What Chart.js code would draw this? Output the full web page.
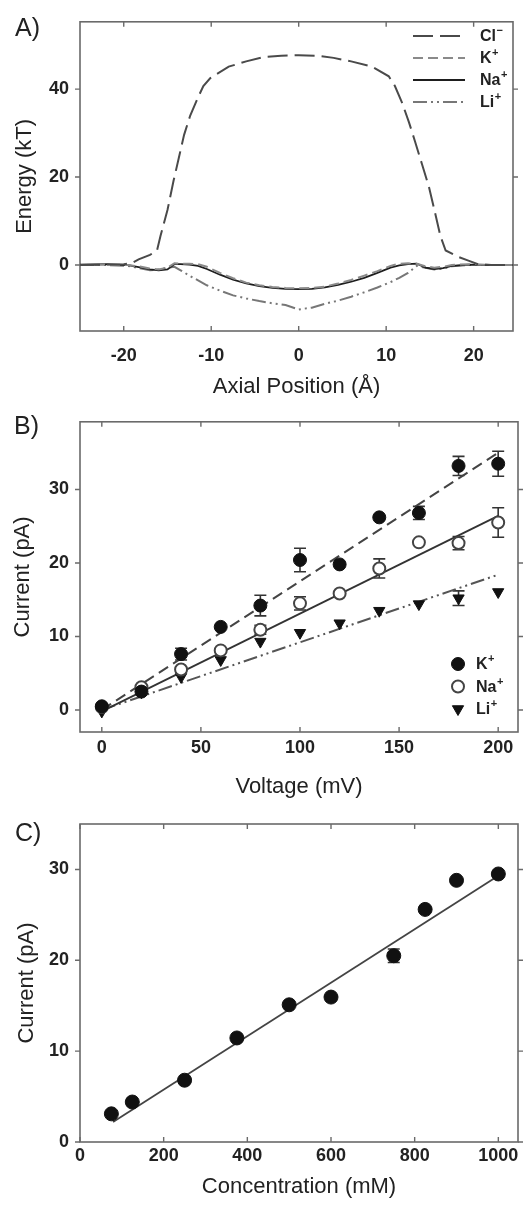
<!DOCTYPE html>
<html>
<head>
<meta charset="utf-8">
<script src="https://cdn.jsdelivr.net/npm/chart.js@4.4.1/dist/chart.umd.min.js"></script>
<style>
  body { margin: 0; background: #fff; width: 526px; height: 1208px; position: relative; overflow: hidden;
         font-family: "Liberation Sans", Arial, sans-serif; }
  .panel { position: absolute; left: 0; width: 526px; }
  .tag { position: absolute; font-size: 25px; line-height: 1; color: #222; }
</style>
</head>
<body>
<div class="panel" style="top:0;height:400px"><canvas id="chartA" width="526" height="400"></canvas></div>
<div class="panel" style="top:400px;height:400px"><canvas id="chartB" width="526" height="400"></canvas></div>
<div class="panel" style="top:800px;height:408px"><canvas id="chartC" width="526" height="408"></canvas></div>
<div class="tag" style="left:15px;top:15px">A)</div>
<div class="tag" style="left:14px;top:413px">B)</div>
<div class="tag" style="left:15px;top:820px">C)</div>
<script>
// ---- panel A: energy profiles ----
const axialCl = [-25, -22, -20, -19, -18.3, -17, -16.2, -15.8, -15, -14.3, -13.7, -13.1, -12.4, -11.6, -10.9, -10.1, -8, -6, -4, -2, 0,
                 2, 4, 6, 8.4, 10.3, 11, 11.8, 12.6, 13.3, 14.1, 14.9, 15.6, 16.2, 16.8, 18.3, 19.4, 20.5, 22, 25];
const energyCl = [0, 0.1, 0.2, 0.5, 1.3, 2.3, 3.3, 6.6, 12.5, 19.2, 24.4, 29.6, 34, 37.7, 40.7, 42.5, 45.1, 46.3, 47.3, 47.6, 47.7,
                  47.6, 47.1, 46.3, 45.1, 42.9, 40.7, 37, 32.5, 28.1, 22.9, 17.7, 11.8, 6.6, 3.3, 1.8, 1.0, 0.2, 0, 0];
const axialIon = [-25, -22, -19.5, -18, -17, -16, -15, -14.2, -13.5, -12.5, -11.5, -10.5, -9, -7.5, -6, -4.5, -3, -1.5, 0,
                  1.5, 3, 4.5, 6, 7.5, 9, 10.5, 11.5, 12.5, 13.5, 14.5, 15.5, 16.5, 17.5, 19.5, 22, 25];
const energyK  = [0, 0.1, 0, -0.4, -0.8, -1.0, -0.6, 0.4, 0.3, 0.3, 0.2, -0.4, -1.8, -3.0, -4.0, -4.6, -5.0, -5.2, -5.3,
                  -5.2, -4.9, -4.2, -3.4, -2.4, -1.4, -0.2, 0.3, 0.4, 0.3, -0.3, -0.6, -0.4, 0, 0.2, 0, 0];
const energyNa = [0.1, 0.2, 0, -0.6, -1.0, -1.2, -1.0, 0.2, 0.2, 0.1, -0.2, -0.9, -2.2, -3.3, -4.2, -4.8, -5.2, -5.4, -5.5,
                  -5.4, -5.1, -4.5, -3.8, -2.9, -1.8, -0.6, -0.1, 0.2, 0.3, -0.6, -0.9, -0.7, -0.2, 0.1, 0, 0];
const energyLi = [0, 0, -0.2, -0.8, -1.2, -1.0, -0.6, -0.4, -1.2, -2.4, -3.5, -4.6, -5.8, -6.9, -7.6, -8.2, -8.7, -9.1, -10.1,
                  -9.7, -8.8, -8.1, -7.2, -6.2, -5.1, -3.9, -2.9, -1.8, -0.2, -0.6, -1.0, -0.8, -0.3, 0, 0, 0];
const ticksAX = [-20, -10, 0, 10, 20];
const ticksAY = [0, 20, 40];

// ---- panel B: current vs voltage ----
const voltage   = [0, 20, 40, 60, 80, 100, 120, 140, 160, 180, 200];
const currentK  = [0.5, 2.5, 7.6, 11.3, 14.2, 20.4, 19.8, 26.2, 26.8, 33.2, 33.5];
const errK      = [0, 0, 0.8, 0, 1.4, 1.6, 0, 0, 0.9, 1.3, 1.7];
const currentNa = [0.4, 3.1, 5.5, 8.1, 10.9, 14.5, 15.85, 19.25, 22.8, 22.7, 25.5];
const errNa     = [0, 0, 0, 0, 0.6, 0.9, 0, 1.3, 0, 0.9, 2.0];
const currentLi = [-0.2, 2.4, 4.5, 6.8, 9.3, 10.5, 11.8, 13.5, 14.4, 15.2, 16.05];
const errLi     = [0, 0, 0, 0, 0, 0, 0, 0, 0, 1.0, 0];
const fitVoltage = [0, 200];
const fitK  = [0, 35.0];
const fitNa = [-0.2, 26.4];
const fitLi = [0, 18.4];
const ticksBX = [0, 50, 100, 150, 200];
const ticksBY = [0, 10, 20, 30];

// ---- panel C: current vs concentration ----
const concentration = [75, 125, 250, 375, 500, 600, 750, 825, 900, 1000];
const currentConc   = [3.1, 4.4, 6.8, 11.45, 15.1, 15.95, 20.5, 25.6, 28.8, 29.5];
const errConc       = [0, 0, 0, 0, 0, 0, 0.75, 0, 0, 0];
const fitConc    = [79, 1000];
const fitConcCur = [2.2, 29.3];
const ticksCX = [0, 200, 400, 600, 800, 1000];
const ticksCY = [0, 10, 20, 30];

const zip = (xs, ys) => xs.map((x, i) => ({x: x, y: ys[i]}));
const FONT = '"Liberation Sans", Arial, sans-serif';
const INK = '#222';

// frame + small ticks on all four sides
const framePlugin = {
  id: 'frame',
  beforeDatasetsDraw(chart) {
    const ctx = chart.ctx, a = chart.chartArea;
    const sx = chart.scales.x, sy = chart.scales.y;
    ctx.save();
    ctx.strokeStyle = '#6a6a6a';
    ctx.lineWidth = 1.6;
    ctx.strokeRect(a.left, a.top, a.right - a.left, a.bottom - a.top);
    ctx.lineWidth = 1.4;
    ctx.beginPath();
    sx.ticks.forEach(t => {
      const px = sx.getPixelForValue(t.value);
      ctx.moveTo(px, a.bottom); ctx.lineTo(px, a.bottom - 5);
      ctx.moveTo(px, a.top); ctx.lineTo(px, a.top + 5);
    });
    sy.ticks.forEach(t => {
      const py = sy.getPixelForValue(t.value);
      ctx.moveTo(a.left, py); ctx.lineTo(a.left - 5, py);
      ctx.moveTo(a.right, py); ctx.lineTo(a.right + 5, py);
    });
    ctx.stroke();
    ctx.restore();
  }
};

// error bars read from dataset.errors
const errorPlugin = {
  id: 'errbars',
  beforeDatasetsDraw(chart) {
    const ctx = chart.ctx, sy = chart.scales.y;
    ctx.save();
    ctx.strokeStyle = '#333';
    ctx.lineWidth = 1.6;
    chart.data.datasets.forEach((ds, i) => {
      if (!ds.errors) return;
      const meta = chart.getDatasetMeta(i);
      ds.data.forEach((p, j) => {
        const e = ds.errors[j];
        if (!e) return;
        const x = meta.data[j].x;
        const y1 = sy.getPixelForValue(p.y + e), y2 = sy.getPixelForValue(p.y - e);
        ctx.beginPath();
        ctx.moveTo(x, y1); ctx.lineTo(x, y2);
        ctx.moveTo(x - 6, y1); ctx.lineTo(x + 6, y1);
        ctx.moveTo(x - 6, y2); ctx.lineTo(x + 6, y2);
        ctx.stroke();
      });
    });
    ctx.restore();
  }
};

// legend drawn inside the plot box
const boxLegend = {
  id: 'boxLegend',
  afterDatasetsDraw(chart, args, opts) {
    if (!opts.items) return;
    const ctx = chart.ctx;
    ctx.save();
    opts.items.forEach((it, k) => {
      const ds = chart.data.datasets[it.ds];
      const y = opts.y + k * opts.dy;
      if (opts.kind === 'line') {
        ctx.strokeStyle = ds.borderColor;
        ctx.lineWidth = ds.borderWidth;
        ctx.setLineDash(ds.borderDash || []);
        ctx.beginPath();
        ctx.moveTo(opts.x, y); ctx.lineTo(opts.x + opts.len, y);
        ctx.stroke();
        ctx.setLineDash([]);
      } else {
        ctx.fillStyle = ds.pointBackgroundColor;
        ctx.strokeStyle = ds.pointBorderColor;
        ctx.lineWidth = ds.pointBorderWidth;
        Chart.helpers.drawPoint(ctx, {pointStyle: ds.pointStyle, rotation: ds.pointRotation || 0,
          radius: ds.pointRadius, borderWidth: ds.pointBorderWidth}, opts.x, y);
      }
      ctx.fillStyle = INK;
      ctx.textBaseline = 'middle';
      ctx.textAlign = 'left';
      ctx.font = 'bold 16px ' + FONT;
      ctx.fillText(it.base, opts.tx, y + 1);
      const w = ctx.measureText(it.base).width;
      ctx.font = 'bold 11px ' + FONT;
      ctx.fillText(it.sup, opts.tx + w + 0.5, y - 5);
    });
    ctx.restore();
  }
};

function axes(o) {
  return {
    x: {
      type: 'linear', min: o.xmin, max: o.xmax,
      afterBuildTicks: s => { s.ticks = o.xticks.map(v => ({value: v})); },
      afterFit: s => { s.height = o.xh; },
      grid: {display: false, drawTicks: false}, border: {display: false},
      ticks: {color: INK, padding: o.xpad, font: {family: FONT, size: 18, weight: 'bold'}, maxRotation: 0,
              callback: v => String(v)},
      title: {display: true, text: o.xtitle, color: INK, padding: {top: 0, bottom: o.xtb},
              font: {family: FONT, size: 22}}
    },
    y: {
      type: 'linear', min: o.ymin, max: o.ymax,
      afterBuildTicks: s => { s.ticks = o.yticks.map(v => ({value: v})); },
      afterFit: s => { s.width = o.yw; },
      grid: {display: false, drawTicks: false}, border: {display: false},
      ticks: {color: INK, padding: 11, font: {family: FONT, size: 18, weight: 'bold'}, callback: v => String(v)},
      title: {display: true, text: o.ytitle, color: INK, padding: {top: o.ytp, bottom: 0},
              font: {family: FONT, size: 22}}
    }
  };
}

const base = {
  responsive: false, animation: false, devicePixelRatio: 1,
  plugins: {legend: {display: false}, tooltip: {enabled: false}}
};

function lineSet(label, xs, ys, color, dash, width) {
  return {label: label, data: zip(xs, ys), showLine: true, pointRadius: 0, borderColor: color,
          borderWidth: width || 2, borderDash: dash, fill: false, tension: 0};
}

// ---------- A ----------
new Chart(document.getElementById('chartA'), {
  type: 'scatter',
  data: {datasets: [
    lineSet('Cl-', axialCl, energyCl, '#4a4a4a', [20, 7], 2),
    lineSet('K+', axialIon, energyK, '#8a8a8a', [10, 5], 2),
    lineSet('Na+', axialIon, energyNa, '#1e1e1e', [], 1.8),
    lineSet('Li+', axialIon, energyLi, '#777', [14, 4, 2, 4, 2, 4], 2)
  ]},
  options: Object.assign({}, base, {
    layout: {padding: {left: 0, top: 14, right: 13, bottom: 0}},
    scales: axes({xmin: -25, xmax: 24.5, xticks: ticksAX, xh: 69, xpad: 14, xtitle: 'Axial Position (Å)', xtb: 0,
                  ymin: -15, ymax: 55.3, yticks: ticksAY, yw: 80, ytitle: 'Energy (kT)', ytp: 12}),
    plugins: Object.assign({}, base.plugins, {
      boxLegend: {kind: 'line', x: 413, len: 52, tx: 480, y: 36, dy: 22,
        items: [{ds: 0, base: 'Cl', sup: '−'}, {ds: 1, base: 'K', sup: '+'},
                {ds: 2, base: 'Na', sup: '+'}, {ds: 3, base: 'Li', sup: '+'}]}
    })
  }),
  plugins: [framePlugin, boxLegend]
});

// ---------- B ----------
new Chart(document.getElementById('chartB'), {
  type: 'scatter',
  data: {datasets: [
    {label: 'K+', data: zip(voltage, currentK), errors: errK, pointStyle: 'circle', pointRadius: 6.5,
     pointBackgroundColor: '#111', pointBorderColor: '#111', pointBorderWidth: 1},
    {label: 'Na+', data: zip(voltage, currentNa), errors: errNa, pointStyle: 'circle', pointRadius: 6,
     pointBackgroundColor: '#fff', pointBorderColor: '#444', pointBorderWidth: 2},
    {label: 'Li+', data: zip(voltage, currentLi), errors: errLi, pointStyle: 'triangle', pointRotation: 180,
     pointRadius: 6.5, pointBackgroundColor: '#111', pointBorderColor: '#111', pointBorderWidth: 1},
    lineSet('K+ fit', fitVoltage, fitK, '#444', [11, 6], 2),
    lineSet('Na+ fit', fitVoltage, fitNa, '#333', [], 1.8),
    lineSet('Li+ fit', fitVoltage, fitLi, '#555', [14, 4, 2, 4, 2, 4], 2)
  ]},
  options: Object.assign({}, base, {
    layout: {padding: {left: 0, top: 14, right: 5, bottom: 0}},
    scales: axes({xmin: -11, xmax: 210, xticks: ticksBX, xh: 68, xpad: 5, xtitle: 'Voltage (mV)', xtb: 0,
                  ymin: -3, ymax: 39.2, yticks: ticksBY, yw: 80, ytitle: 'Current (pA)', ytp: 10}),
    plugins: Object.assign({}, base.plugins, {
      boxLegend: {kind: 'point', x: 458, tx: 476, y: 264, dy: 22.5,
        items: [{ds: 0, base: 'K', sup: '+'}, {ds: 1, base: 'Na', sup: '+'}, {ds: 2, base: 'Li', sup: '+'}]}
    })
  }),
  plugins: [framePlugin, errorPlugin, boxLegend]
});

// ---------- C ----------
new Chart(document.getElementById('chartC'), {
  type: 'scatter',
  data: {datasets: [
    {label: 'Current', data: zip(concentration, currentConc), errors: errConc, pointStyle: 'circle', pointRadius: 7,
     pointBackgroundColor: '#111', pointBorderColor: '#111', pointBorderWidth: 1},
    lineSet('Fit', fitConc, fitConcCur, '#444', [], 1.8)
  ]},
  options: Object.assign({}, base, {
    layout: {padding: {left: 0, top: 24, right: 6, bottom: 0}},
    scales: axes({xmin: 0, xmax: 1047, xticks: ticksCX, xh: 66, xpad: 3, xtitle: 'Concentration (mM)', xtb: 8,
                  ymin: 0, ymax: 35, yticks: ticksCY, yw: 80, ytitle: 'Current (pA)', ytp: 14})
  }),
  plugins: [framePlugin, errorPlugin]
});
</script>
</body>
</html>
